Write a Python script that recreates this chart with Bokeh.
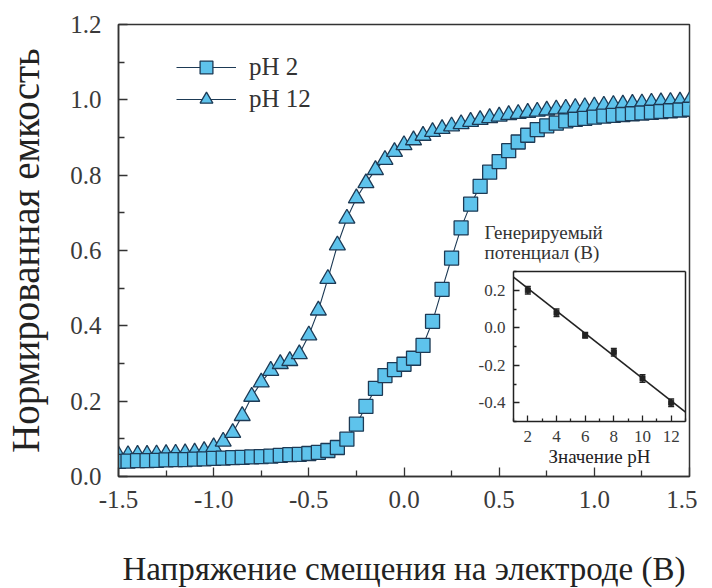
from bokeh.plotting import figure
from bokeh.models import (Range1d, LinearAxis, FixedTicker, PrintfTickFormatter,
                          Legend, LegendItem, Label, Whisker, TeeHead, ColumnDataSource)
from bokeh.embed import file_html
from bokeh.resources import INLINE

# ---------------- data ----------------
voltage = [-1.50, -1.45, -1.40, -1.35, -1.30, -1.25, -1.20, -1.15, -1.10, -1.05,
           -1.00, -0.95, -0.90, -0.85, -0.80, -0.75, -0.70, -0.65, -0.60, -0.55,
           -0.50, -0.45, -0.40, -0.35, -0.30, -0.25, -0.20, -0.15, -0.10, -0.05,
           0.00, 0.05, 0.10, 0.15, 0.20, 0.25, 0.30, 0.35, 0.40, 0.45,
           0.50, 0.55, 0.60, 0.65, 0.70, 0.75, 0.80, 0.85, 0.90, 0.95,
           1.00, 1.05, 1.10, 1.15, 1.20, 1.25, 1.30, 1.35, 1.40, 1.45, 1.50]

cap_ph2 = [0.040, 0.041, 0.042, 0.042, 0.043, 0.044, 0.045, 0.045, 0.046, 0.047,
           0.048, 0.049, 0.050, 0.051, 0.052, 0.053, 0.054, 0.056, 0.058, 0.059,
           0.061, 0.064, 0.069, 0.077, 0.099, 0.139, 0.186, 0.234, 0.268, 0.284,
           0.298, 0.314, 0.348, 0.412, 0.497, 0.580, 0.660, 0.723, 0.770, 0.808,
           0.836, 0.865, 0.888, 0.906, 0.921, 0.931, 0.938, 0.944, 0.948, 0.951,
           0.954, 0.957, 0.959, 0.961, 0.963, 0.965, 0.967, 0.969, 0.971, 0.973, 0.975]

cap_ph12 = [0.056, 0.057, 0.058, 0.058, 0.059, 0.060, 0.061, 0.062, 0.064, 0.068,
            0.078, 0.093, 0.116, 0.161, 0.212, 0.250, 0.281, 0.299, 0.307, 0.325,
            0.375, 0.441, 0.525, 0.614, 0.685, 0.739, 0.779, 0.814, 0.841, 0.862,
            0.880, 0.893, 0.905, 0.915, 0.923, 0.930, 0.936, 0.942, 0.947, 0.952,
            0.956, 0.960, 0.963, 0.966, 0.969, 0.972, 0.975, 0.977, 0.979, 0.981,
            0.983, 0.985, 0.987, 0.988, 0.990, 0.991, 0.993, 0.994, 0.995, 0.996, 0.997]

x_ticks = [-1.5, -1.0, -0.5, 0.0, 0.5, 1.0, 1.5]
x_minor = [-1.25, -0.75, -0.25, 0.25, 0.75, 1.25]
y_ticks = [0.0, 0.2, 0.4, 0.6, 0.8, 1.0, 1.2]
y_minor = [0.1, 0.3, 0.5, 0.7, 0.9, 1.1]

# inset data
inset_ph = [2, 4, 6, 8, 10, 12]
inset_pot = [0.20, 0.08, -0.04, -0.13, -0.27, -0.40]
inset_err = [0.02, 0.02, 0.015, 0.02, 0.02, 0.02]
fit_ph = [1, 13]
fit_pot = [0.27, -0.45]
inset_xticks = [2, 4, 6, 8, 10, 12]
inset_xminor = [1, 3, 5, 7, 9, 11, 13]
inset_yticks = [-0.4, -0.2, 0.0, 0.2]
inset_yminor = [-0.5, -0.3, -0.1, 0.1, 0.3]
inset_xlim = (1, 13)
inset_ylim = (-0.5, 0.3)

# ---------------- styles ----------------
FONT = "'Liberation Serif', 'DejaVu Serif', serif"
FILL = "#5ec3ec"
EDGE = "#1d3a55"
AXC = "#333333"
FRAME_W, FRAME_H = 571, 452
# inset frame box, in pixels inside the main frame
IN_L, IN_R, IN_T, IN_B = 395, 567, 247, 397

p = figure(frame_width=FRAME_W, frame_height=FRAME_H,
           x_range=Range1d(-1.5, 1.5), y_range=Range1d(0.0, 1.2),
           output_backend="svg", toolbar_location=None,
           min_border_left=118, min_border_right=8, min_border_top=24,
           min_border_bottom=106, background_fill_color="white",
           border_fill_color="white")
p.grid.visible = False
p.outline_line_color = AXC
p.outline_line_width = 1.5

# extra ranges that place the inset inside the frame
xs = (inset_xlim[1] - inset_xlim[0]) / (IN_R - IN_L)
ys = (inset_ylim[1] - inset_ylim[0]) / (IN_B - IN_T)
p.extra_x_ranges = {"ix": Range1d(inset_xlim[0] - IN_L * xs,
                                  inset_xlim[1] + (FRAME_W - IN_R) * xs)}
p.extra_y_ranges = {"iy": Range1d(inset_ylim[0] - (FRAME_H - IN_B) * ys,
                                  inset_ylim[1] + IN_T * ys)}

def style_axis(ax, size):
    ax.axis_line_color = AXC
    ax.axis_line_width = 1.5
    ax.major_tick_line_color = AXC
    ax.minor_tick_line_color = AXC
    ax.major_tick_line_width = 1.3
    ax.minor_tick_line_width = 1.3
    ax.major_label_text_font = FONT
    ax.major_label_text_color = "#3a3a3a"
    ax.major_label_text_font_size = size
    ax.axis_label_text_font = FONT
    ax.axis_label_text_font_style = "normal"
    ax.axis_label_text_color = "#222222"

xa = p.xaxis[0]
xa.ticker = FixedTicker(ticks=x_ticks, minor_ticks=x_minor)
xa.formatter = PrintfTickFormatter(format="%.1f")
style_axis(xa, "25px")
xa.major_tick_in = 9
xa.major_tick_out = 0
xa.minor_tick_in = 6
xa.minor_tick_out = 0
xa.major_label_standoff = 14
xa.axis_label = "Напряжение смещения на электроде (В)"
xa.axis_label_text_font_size = "33px"
xa.axis_label_standoff = 40

ya = p.yaxis[0]
ya.ticker = FixedTicker(ticks=y_ticks, minor_ticks=y_minor)
ya.formatter = PrintfTickFormatter(format="%.1f")
style_axis(ya, "25px")
ya.major_tick_in = 9
ya.major_tick_out = 0
ya.minor_tick_in = 6
ya.minor_tick_out = 0
ya.major_label_standoff = 17
ya.axis_label = "Нормированная емкость"
ya.axis_label_text_font_size = "39px"
ya.axis_label_standoff = 20

# ---------------- main curves ----------------
l12 = p.line(voltage, cap_ph12, line_color=EDGE, line_width=1.1)
l2 = p.line(voltage, cap_ph2, line_color=EDGE, line_width=1.1)
s12 = p.scatter(voltage, cap_ph12, marker="triangle", size=16,
                fill_color=FILL, line_color=EDGE, line_width=1.3)
s2 = p.scatter(voltage, cap_ph2, marker="square", size=14,
               fill_color=FILL, line_color=EDGE, line_width=1.3)

legend = Legend(items=[LegendItem(label="pH 2", renderers=[l2, s2]),
                       LegendItem(label="pH 12", renderers=[l12, s12])],
                location=(58, 361), glyph_width=60, glyph_height=32,
                label_height=32, spacing=0, padding=0, margin=0,
                label_standoff=13, border_line_color=None,
                background_fill_alpha=0,
                label_text_font=FONT, label_text_font_size="25px",
                label_text_color="#333333")
p.add_layout(legend)

# ---------------- inset ----------------
INK = "#222222"
src = ColumnDataSource(dict(
    ph=inset_ph, pot=inset_pot,
    lo=[v - e for v, e in zip(inset_pot, inset_err)],
    hi=[v + e for v, e in zip(inset_pot, inset_err)]))

p.line(fit_ph, fit_pot, x_range_name="ix", y_range_name="iy",
       line_color=INK, line_width=1.6)
p.add_layout(Whisker(base="ph", lower="lo", upper="hi", source=src,
                     dimension="height", x_range_name="ix", y_range_name="iy",
                     line_color=INK, line_width=1.5,
                     upper_head=TeeHead(size=6, line_color=INK, line_width=1.5),
                     lower_head=TeeHead(size=6, line_color=INK, line_width=1.5)))
p.scatter("ph", "pot", source=src, marker="square", size=5,
          x_range_name="ix", y_range_name="iy", fill_color=INK, line_color=INK)

ixa = LinearAxis(x_range_name="ix", y_range_name="iy", fixed_location=inset_ylim[0],
                 bounds=inset_xlim,
                 ticker=FixedTicker(ticks=inset_xticks, minor_ticks=inset_xminor))
style_axis(ixa, "17px")
ixa.axis_line_color = INK
ixa.major_tick_line_color = INK
ixa.minor_tick_line_color = INK
ixa.major_tick_in = 6
ixa.major_tick_out = 0
ixa.minor_tick_in = 3
ixa.minor_tick_out = 0
ixa.major_label_standoff = 9
ixa.axis_label = "Значение pH"
ixa.axis_label_text_font_size = "19px"
ixa.axis_label_standoff = 1
p.add_layout(ixa, "below")

iya = LinearAxis(x_range_name="ix", y_range_name="iy", fixed_location=inset_xlim[0],
                 bounds=inset_ylim,
                 ticker=FixedTicker(ticks=inset_yticks, minor_ticks=inset_yminor),
                 formatter=PrintfTickFormatter(format="%.1f"))
style_axis(iya, "17px")
iya.axis_line_color = INK
iya.major_tick_line_color = INK
iya.minor_tick_line_color = INK
iya.major_tick_in = 6
iya.major_tick_out = 0
iya.minor_tick_in = 3
iya.minor_tick_out = 0
iya.major_label_standoff = 8
p.add_layout(iya, "left")

for loc, fixed, bnd in (("above", inset_ylim[1], inset_xlim),
                        ("right", inset_xlim[1], inset_ylim)):
    b = LinearAxis(x_range_name="ix", y_range_name="iy", fixed_location=fixed,
                   bounds=bnd, ticker=FixedTicker(ticks=[]))
    b.axis_line_color = INK
    b.axis_line_width = 1.5
    b.major_label_text_font_size = "0px"
    p.add_layout(b, loc)

for txt, dy in (("Генерируемый", 39), ("потенциал (В)", 19)):
    p.add_layout(Label(x=inset_xlim[0], y=inset_ylim[1], x_range_name="ix",
                       y_range_name="iy", text=txt, x_offset=-29, y_offset=dy,
                       text_font=FONT, text_font_size="19px", text_color="#333333",
                       text_baseline="middle", text_align="left"))

open("out.html", "w").write(file_html(p, INLINE))
